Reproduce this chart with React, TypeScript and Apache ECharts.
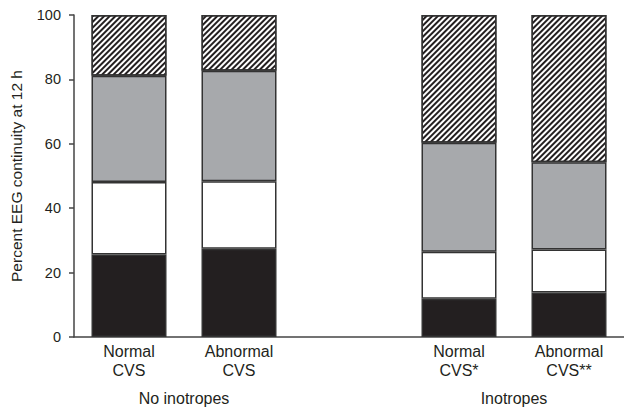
import React, { useEffect, useRef } from "react";
import * as echarts from "echarts";

const categories = ["Normal\nCVS", "Abnormal\nCVS", "", "Normal\nCVS*", "Abnormal\nCVS**"];
const blackValues: (number | string)[] = [25.6, 27.4, "-", 11.9, 13.8];
const whiteValues: (number | string)[] = [22.5, 21.0, "-", 14.6, 13.4];
const grayValues: (number | string)[] = [33.0, 34.3, "-", 33.8, 27.1];
const hatchedValues: (number | string)[] = [18.9, 17.3, "-", 39.7, 45.7];
const yTicks = { min: 0, max: 100, interval: 20 };
const groupLabels = [
  { text: "No inotropes", from: 0, to: 1 },
  { text: "Inotropes", from: 3, to: 4 },
];

const TEXT = "#231f20";
const AXIS = "#444";
const FONT = "'Liberation Sans', Arial, Helvetica, sans-serif";

export default function App() {
  const ref = useRef<HTMLDivElement>(null);
  useEffect(() => {
    if (!ref.current) return;
    const chart = echarts.init(ref.current, undefined, { renderer: "svg" });
    const border = { borderColor: "#333", borderWidth: 1.5 };
    const mk = (name: string, data: (number | string)[], itemStyle: any) => ({
      name,
      type: "bar",
      stack: "total",
      barWidth: 75,
      data,
      itemStyle: { ...border, ...itemStyle },
    });
    chart.setOption({
      animation: false,
      textStyle: { fontFamily: FONT, color: TEXT },
      grid: { left: 72, right: -4, top: 15, bottom: 70, containLabel: false },
      xAxis: {
        type: "category",
        data: categories,
        axisLine: { show: true, lineStyle: { color: AXIS, width: 1.5 } },
        axisTick: { show: false },
        axisLabel: {
          interval: 0,
          fontSize: 16,
          lineHeight: 19,
          color: TEXT,
          fontFamily: FONT,
          margin: 5,
        },
      },
      yAxis: {
        type: "value",
        min: yTicks.min,
        max: yTicks.max,
        interval: yTicks.interval,
        name: "Percent EEG continuity at 12 h",
        nameLocation: "middle",
        nameGap: 50,
        nameTextStyle: { fontSize: 15.5, color: TEXT, fontFamily: FONT },
        axisLine: { show: true, lineStyle: { color: AXIS, width: 1.5 } },
        axisTick: { show: true, length: 5, lineStyle: { color: AXIS, width: 1.5 } },
        axisLabel: { fontSize: 14.5, color: TEXT, fontFamily: FONT, margin: 13 },
        splitLine: { show: false },
      },
      series: [
        mk("black", blackValues, { color: "#231f20" }),
        mk("white", whiteValues, { color: "#ffffff" }),
        mk("gray", grayValues, { color: "#a7a9ac" }),
        mk("hatched", hatchedValues, {
          color: "#ffffff",
          decal: {
            symbol: "rect",
            symbolSize: 1,
            dashArrayX: [1, 0],
            dashArrayY: [2, 2],
            rotation: -Math.PI / 4,
            color: "#231f20",
          },
        }),
      ],
    });
    const graphics = groupLabels.map((g) => {
      const a = chart.convertToPixel({ xAxisIndex: 0 }, g.from) as number;
      const b = chart.convertToPixel({ xAxisIndex: 0 }, g.to) as number;
      return {
        type: "text",
        x: (a + b) / 2,
        y: 398,
        style: {
          text: g.text,
          fontSize: 16,
          fontFamily: FONT,
          fill: TEXT,
          textAlign: "center",
          textVerticalAlign: "middle",
        },
      };
    });
    chart.setOption({ graphic: graphics });
    return () => chart.dispose();
  }, []);
  return <div ref={ref} style={{ width: 624, height: 407, position: "absolute", left: 0, top: 0 }} />;
}
